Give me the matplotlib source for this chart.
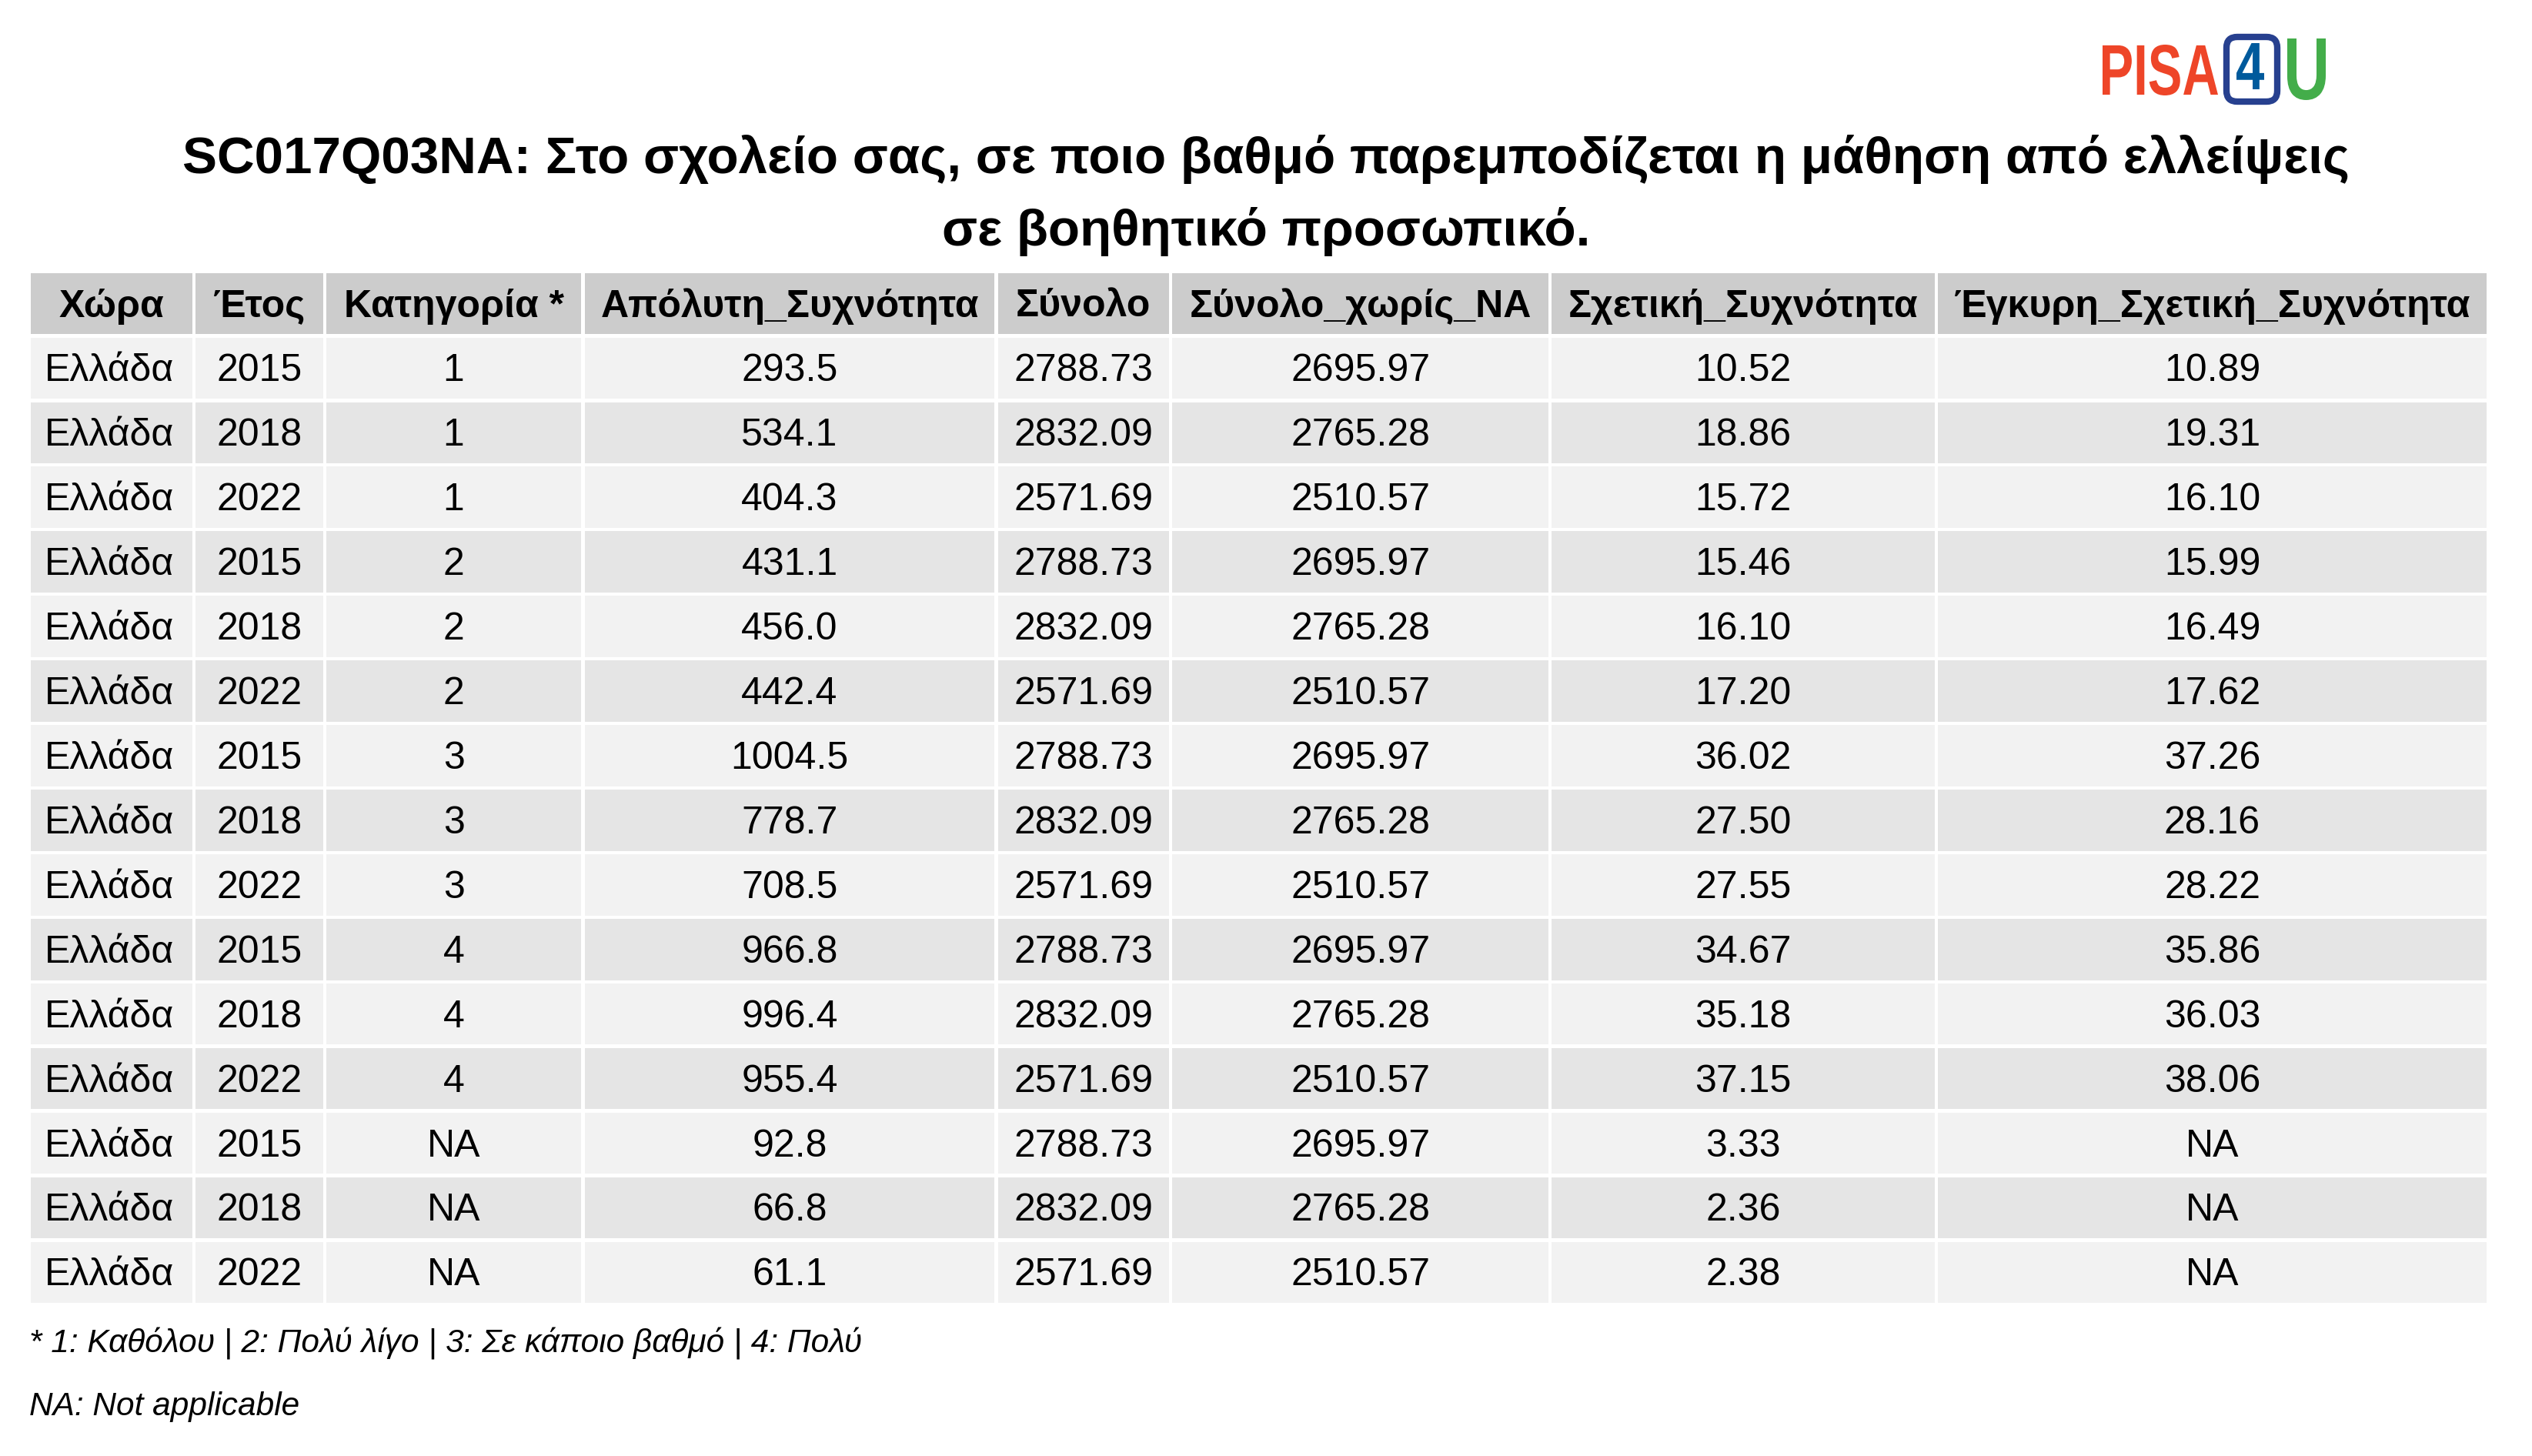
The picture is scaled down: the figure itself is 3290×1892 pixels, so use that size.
import matplotlib
matplotlib.use("Agg")
import matplotlib.pyplot as plt
from matplotlib.patches import Rectangle, FancyBboxPatch, PathPatch
from matplotlib.textpath import TextPath
from matplotlib.font_manager import FontProperties
from matplotlib.transforms import Affine2D

plt.rcParams['font.family'] = ['Liberation Sans', 'DejaVu Sans']

columns = ["Χώρα", "Έτος", "Κατηγορία *", "Απόλυτη_Συχνότητα", "Σύνολο",
           "Σύνολο_χωρίς_NA", "Σχετική_Συχνότητα", "Έγκυρη_Σχετική_Συχνότητα"]
country = ["Ελλάδα"] * 15
years = ["2015", "2018", "2022"] * 5
category = ["1"] * 3 + ["2"] * 3 + ["3"] * 3 + ["4"] * 3 + ["NA"] * 3
abs_freq = ["293.5", "534.1", "404.3", "431.1", "456.0", "442.4", "1004.5", "778.7",
            "708.5", "966.8", "996.4", "955.4", "92.8", "66.8", "61.1"]
total = ["2788.73", "2832.09", "2571.69"] * 5
total_no_na = ["2695.97", "2765.28", "2510.57"] * 5
rel_freq = ["10.52", "18.86", "15.72", "15.46", "16.10", "17.20", "36.02", "27.50",
            "27.55", "34.67", "35.18", "37.15", "3.33", "2.36", "2.38"]
valid_rel = ["10.89", "19.31", "16.10", "15.99", "16.49", "17.62", "37.26", "28.16",
             "28.22", "35.86", "36.03", "38.06", "NA", "NA", "NA"]
title_lines = ["SC017Q03NA: Στο σχολείο σας, σε ποιο βαθμό παρεμποδίζεται η μάθηση από ελλείψεις",
               "σε βοηθητικό προσωπικό."]
foot1 = "* 1: Καθόλου | 2: Πολύ λίγο | 3: Σε κάποιο βαθμό | 4: Πολύ"
foot2 = "NA: Not applicable"

W, H = 3290, 1892
fig = plt.figure(figsize=(W / 100, H / 100), dpi=100)
ax = fig.add_axes([0, 0, 1, 1])
ax.set_xlim(0, W)
ax.set_ylim(H, 0)
ax.axis('off')

s = W / 1568
col_edges = [e * s for e in [18, 120, 201, 361, 617, 725, 960, 1199, 1541]]
top = 168 * s
rh = 40 * s
gap = 2.2

rows = list(zip(country, years, category, abs_freq, total, total_no_na, rel_freq, valid_rel))
all_rows = [columns] + rows
for r, row in enumerate(all_rows):
    y0 = top + r * rh
    if r == 0:
        fc = '#cccccc'
    else:
        fc = '#f2f2f2' if r % 2 == 1 else '#e5e5e5'
    for c, txt in enumerate(row):
        x0 = col_edges[c]
        x1 = col_edges[c + 1]
        ax.add_patch(Rectangle((x0 + gap, y0 + gap), x1 - x0 - 2 * gap, rh - 2 * gap,
                               facecolor=fc, edgecolor='none'))
        if c == 0 and r > 0:
            ax.text(x0 + 20, y0 + rh / 2 + 4, txt, ha='left', va='center', fontsize=36)
        else:
            ax.text((x0 + x1) / 2, y0 + rh / 2 + 4, txt, ha='center', va='center',
                    fontsize=36, fontweight='bold' if r == 0 else 'normal')

ax.text(W / 2, 98.5 * s, title_lines[0], ha='center', va='center', fontsize=48.5, fontweight='bold')
ax.text(W / 2, 143.5 * s, title_lines[1], ha='center', va='center', fontsize=48.5, fontweight='bold')
ax.text(18 * s, 832 * s, foot1, ha='left', va='center', fontsize=30.5, style='italic')
ax.text(18 * s, 871 * s, foot2, ha='left', va='center', fontsize=30.5, style='italic')

# logo: glyph paths fitted into boxes (y axis points down)
def fitted(txt, x0, x1, y0, y1, color):
    tp = TextPath((0, 0), txt, size=100, prop=FontProperties(family='Liberation Sans', weight='bold'))
    ext = tp.get_extents()
    sx = (x1 - x0) / ext.width
    sy = (y1 - y0) / ext.height
    tr = Affine2D().translate(-ext.x0, -ext.y0).scale(sx, -sy).translate(x0, y1)
    ax.add_patch(PathPatch(tr.transform_path(tp), facecolor=color, edgecolor='none'))

fitted("PISA", 2732, 2882, 58, 124, '#ee4528')
ax.add_patch(FancyBboxPatch((2893, 48), 66, 84, boxstyle="round,pad=0,rounding_size=14",
                            facecolor='white', edgecolor='#27408f', linewidth=6))
fitted("4", 2906, 2942, 56, 116, '#005a9c')
fitted("U", 2972, 3022, 50, 130, '#43ad4a')

fig.savefig("out.png", dpi=100, facecolor='white')
